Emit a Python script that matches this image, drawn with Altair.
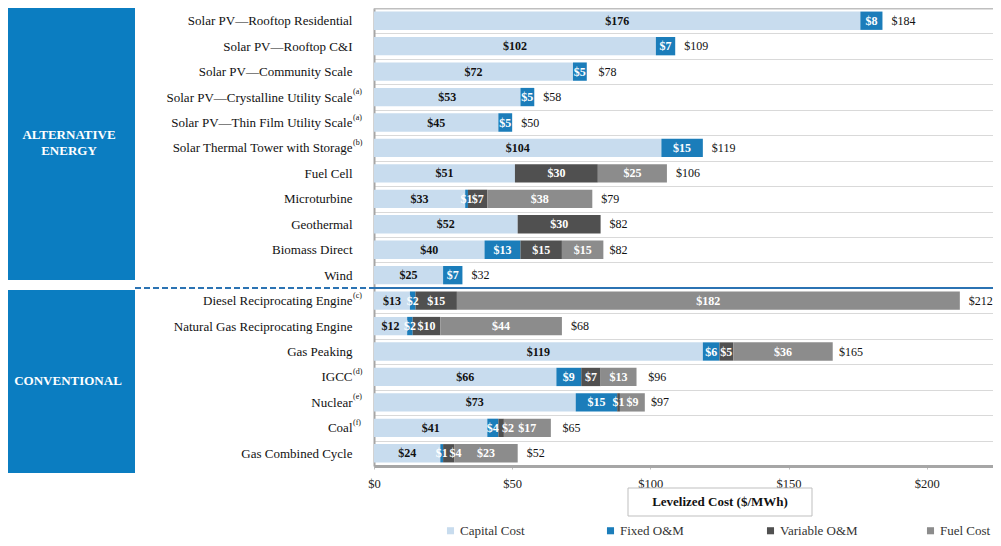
import altair as alt
import pandas as pd

categories = [
    "Solar PV\u2014Rooftop Residential",
    "Solar PV\u2014Rooftop C&I",
    "Solar PV\u2014Community Scale",
    "Solar PV\u2014Crystalline Utility Scale",
    "Solar PV\u2014Thin Film Utility Scale",
    "Solar Thermal Tower with Storage",
    "Fuel Cell",
    "Microturbine",
    "Geothermal",
    "Biomass Direct",
    "Wind",
    "Diesel Reciprocating Engine",
    "Natural Gas Reciprocating Engine",
    "Gas Peaking",
    "IGCC",
    "Nuclear",
    "Coal",
    "Gas Combined Cycle",
]
superscripts = ["", "", "", "(a)", "(a)", "(b)", "", "", "", "", "",
                "(c)", "", "", "(d)", "(e)", "(f)", ""]
capital = [176, 102, 72, 53, 45, 104, 51, 33, 52, 40, 25, 13, 12, 119, 66, 73, 41, 24]
fixed_om = [8, 7, 5, 5, 5, 15, 0, 1, 0, 13, 7, 2, 2, 6, 9, 15, 4, 1]
variable_om = [0, 0, 0, 0, 0, 0, 30, 7, 30, 15, 0, 15, 10, 5, 7, 1, 2, 4]
fuel = [0, 0, 0, 0, 0, 0, 25, 38, 0, 15, 0, 182, 44, 36, 13, 9, 17, 23]
totals = [184, 109, 78, 58, 50, 119, 106, 79, 82, 82, 32, 212, 68, 165, 96, 97, 65, 52]
segments = ["Capital Cost", "Fixed O&M", "Variable O&M", "Fuel Cost"]
seg_colors = ["#C8DCEE", "#1B7DBA", "#505050", "#8C8C8C"]
group_names = ["ALTERNATIVE\nENERGY", "CONVENTIONAL"]
first_conventional = "Diesel Reciprocating Engine"
x_ticks = [0, 50, 100, 150, 200]
axis_title = "Levelized Cost ($/MWh)"

FONT = "Liberation Serif"
W, H = 619, 458

rows = []
for i, cat in enumerate(categories):
    start = 0
    for k, vals in enumerate([capital, fixed_om, variable_om, fuel]):
        v = vals[i]
        if v > 0:
            rows.append({"cat": cat, "seg": segments[k], "order": k, "value": v,
                         "mid": start + v / 2, "label": f"${v}"})
        start += v
seg_df = pd.DataFrame(rows)
tot_df = pd.DataFrame({"cat": categories, "total": totals,
                       "label": [f"${t}" for t in totals]})
sup_df = pd.DataFrame({"cat": categories, "sup": superscripts})
sup_df = sup_df[sup_df["sup"] != ""]
sep_df = pd.DataFrame({"cat": [first_conventional]})

yscale = alt.Scale(domain=categories, paddingInner=0, paddingOuter=0)
xscale = alt.Scale(domain=[0, 224], nice=False, zero=True)

y_axis = alt.Axis(title=None, grid=True, tickBand="extent", gridColor="#D9D9D9",
                  gridWidth=1, ticks=False, domain=True, domainColor="#A6A6A6",
                  domainWidth=2, labelFont=FONT, labelFontSize=13, labelColor="#111111",
                  labelPadding=22, labelLimit=400)
x_axis = alt.Axis(title=None, values=x_ticks, labelExpr="'$' + datum.value",
                  grid=False, ticks=True, tickSize=3, tickColor="#BFBFBF",
                  domainColor="#A6A6A6", domainWidth=3, labelFont=FONT,
                  labelFontSize=12.5, labelColor="#222222", labelPadding=8,
                  labelFlush=False, labelOverlap=False)

Y = lambda **kw: alt.Y("cat:N", scale=yscale, axis=y_axis, sort=categories, **kw)

bars = alt.Chart(seg_df).mark_bar(height={"band": 0.72}).encode(
    x=alt.X("value:Q", stack="zero", scale=xscale, axis=x_axis),
    y=Y(),
    color=alt.Color("seg:N", scale=alt.Scale(domain=segments, range=seg_colors),
                    legend=alt.Legend(title=None, orient="none", legendX=70, legendY=516,
                                      direction="horizontal", columns=4, gridAlign="all",
                                      columnPadding=66, symbolType="square", symbolSize=50,
                                      symbolStrokeWidth=0, labelFont=FONT, labelFontSize=13,
                                      labelColor="#333333", labelOffset=3)),
    order=alt.Order("order:Q"),
)

# tiny variable O&M labels squeezed after tiny fixed O&M are nudged right, as in the original
nudge = "datum.seg == 'Variable O&M' && datum.value >= 2 && datum.value <= 4"

def seg_labels(dx, keep):
    return alt.Chart(seg_df).transform_filter(keep).mark_text(
        font=FONT, fontSize=12, fontWeight="bold", dx=dx).encode(
        x=alt.X("mid:Q", scale=xscale, axis=x_axis),
        y=Y(),
        text="label:N",
        color=alt.condition(alt.datum.seg == "Capital Cost", alt.value("#111111"),
                            alt.value("white")),
    )

seg_text = seg_labels(0, f"!({nudge})")
seg_text_nudged = seg_labels(7, nudge)

tot_text = alt.Chart(tot_df).mark_text(font=FONT, fontSize=12, align="left", dx=9,
                                       color="#111111").encode(
    x=alt.X("total:Q", scale=xscale, axis=x_axis),
    y=Y(),
    text="label:N",
)

sup_text = alt.Chart(sup_df).mark_text(font=FONT, fontSize=8, align="left", dy=-5,
                                       color="#111111").encode(
    x=alt.value(-21),
    y=Y(),
    text="sup:N",
)

sep_solid = alt.Chart(sep_df).mark_rule(color="#2B73B3", strokeWidth=2).encode(
    y=Y(bandPosition=0),
    x=alt.value(0), x2=alt.value(W),
)
sep_dash = alt.Chart(sep_df).mark_rule(color="#2B73B3", strokeWidth=2,
                                       strokeDash=[6, 3]).encode(
    y=Y(bandPosition=0),
    x=alt.value(-239), x2=alt.value(0),
)

one = alt.Data(values=[{}])
top_border = alt.Chart(one).mark_rule(color="#BFBFBF", strokeWidth=3).encode(
    x=alt.value(0), x2=alt.value(W), y=alt.value(0))

box1 = alt.Chart(one).mark_rect(color="#0B7DC1").encode(
    x=alt.value(-366), x2=alt.value(-239), y=alt.value(0), y2=alt.value(272))
box2 = alt.Chart(one).mark_rect(color="#0B7DC1").encode(
    x=alt.value(-366), x2=alt.value(-239), y=alt.value(282), y2=alt.value(465))

g1 = alt.Chart(pd.DataFrame({"t": [group_names[0]]})).mark_text(
    font=FONT, fontSize=13, fontWeight="bold", color="white", lineBreak="\n",
    lineHeight=16, align="center").encode(
    x=alt.value(-305), y=alt.value(127), text="t:N")
g2 = alt.Chart(pd.DataFrame({"t": [group_names[1]]})).mark_text(
    font=FONT, fontSize=13, fontWeight="bold", color="white", align="center").encode(
    x=alt.value(-306), y=alt.value(373), text="t:N")

title_box = alt.Chart(one).mark_rect(fill="white", stroke="#BFBFBF", strokeWidth=1).encode(
    x=alt.value(254), x2=alt.value(438), y=alt.value(480), y2=alt.value(508))
title_text = alt.Chart(pd.DataFrame({"t": [axis_title]})).mark_text(
    font=FONT, fontSize=13, fontWeight="bold", color="#111111").encode(
    x=alt.value(346), y=alt.value(494), text="t:N")

chart = alt.layer(
    bars, seg_text, seg_text_nudged, tot_text, sup_text, sep_solid, sep_dash,
    box1, box2, g1, g2, top_border, title_box, title_text,
).properties(
    width=W, height=H,
    autosize=alt.AutoSizeParams(type="none"),
    padding={"left": 366, "top": 0, "right": 0, "bottom": 72},
).configure_view(stroke=None).configure(background="white", font=FONT)

chart.save("out.html", embed_options={"renderer": "svg", "actions": False})
